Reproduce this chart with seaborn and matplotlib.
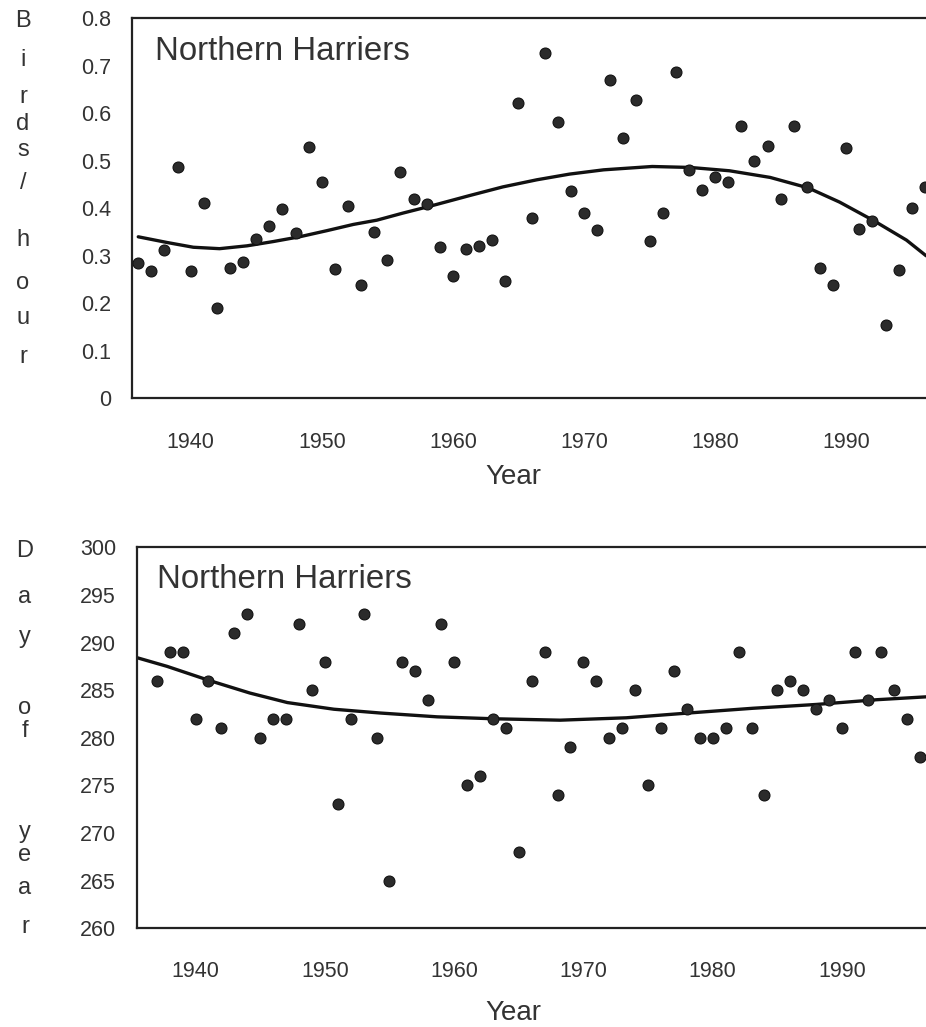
import numpy as np
import pandas as pd
import matplotlib
matplotlib.use("Agg")
import matplotlib.pyplot as plt
import seaborn as sns

# ---------------- data ----------------
rate_years = list(range(1936, 1997))
rate_values = [0.284, 0.268, 0.313, 0.486, 0.268, 0.412, 0.191, 0.274, 0.287, 0.336,
               0.363, 0.399, 0.347, 0.529, 0.455, 0.272, 0.404, 0.239, 0.350, 0.292,
               0.476, 0.420, 0.410, 0.319, 0.258, 0.315, 0.320, 0.333, 0.248, 0.622,
               0.380, 0.728, 0.582, 0.436, 0.390, 0.355, 0.670, 0.549, 0.629, 0.331,
               0.390, 0.686, 0.481, 0.438, 0.465, 0.455, 0.573, 0.500, 0.531, 0.419,
               0.574, 0.445, 0.275, 0.238, 0.527, 0.357, 0.373, 0.154, 0.271, 0.401,
               0.444]
rate_curve_years = [1936.0, 1938.2, 1940.2, 1942.2, 1944.3, 1946.3, 1948.3, 1950.4,
                    1952.4, 1954.2, 1956.2, 1958.2, 1961.3, 1963.8, 1966.4, 1968.9,
                    1971.5, 1975.2, 1978.1, 1981.1, 1984.2, 1987.1, 1989.5, 1992.1,
                    1994.6, 1996.1]
rate_curve_values = [0.340, 0.328, 0.318, 0.315, 0.321, 0.330, 0.340, 0.353,
                     0.366, 0.375, 0.390, 0.404, 0.427, 0.445, 0.460, 0.472,
                     0.481, 0.488, 0.486, 0.479, 0.465, 0.443, 0.413, 0.374,
                     0.333, 0.300]

day_years = list(range(1937, 1997))
day_values = [286, 289, 289, 282, 286, 281, 291, 293, 280, 282,
              282, 292, 285, 288, 273, 282, 293, 280, 265, 288,
              287, 284, 292, 288, 275, 276, 282, 281, 268, 286,
              289, 274, 279, 288, 286, 280, 281, 285, 275, 281,
              287, 283, 280, 280, 281, 289, 281, 274, 285, 286,
              285, 283, 284, 281, 289, 284, 289, 285, 282, 278]
day_curve_years = [1935.5, 1937.8, 1941.1, 1944.2, 1947.1, 1950.7, 1954.3, 1958.7,
                   1963.0, 1968.2, 1973.3, 1978.1, 1983.1, 1988.0, 1992.7, 1996.5]
day_curve_values = [288.4, 287.5, 286.0, 284.7, 283.7, 283.0, 282.6, 282.2,
                    282.0, 281.85, 282.1, 282.6, 283.1, 283.5, 284.0, 284.3]

species = "Northern Harriers"
x_label = "Year"
top_ylabel = "Birds/hour"
bottom_ylabel = "Day of year"
x_ticks = [1940, 1950, 1960, 1970, 1980, 1990]
top_yticks = [0, 0.1, 0.2, 0.3, 0.4, 0.5, 0.6, 0.7, 0.8]
top_yticklabels = ["0", "0.1", "0.2", "0.3", "0.4", "0.5", "0.6", "0.7", "0.8"]
bottom_yticks = [260, 265, 270, 275, 280, 285, 290, 295, 300]

# ---------------- styling ----------------
sns.set_theme(style="white")
plt.rcParams["font.family"] = ["Liberation Sans", "DejaVu Sans"]
INK = "#2b2b2b"
TXT = "#333333"

W, H = 926, 1027
fig = plt.figure(figsize=(W / 100, H / 100), dpi=100)
fig.patch.set_facecolor("white")


def rect(left, top, right, bottom):
    return [left / W, 1 - bottom / H, (right - left) / W, (bottom - top) / H]


ax1 = fig.add_axes(rect(131.7, 18.3, 944.5, 398.3))
ax2 = fig.add_axes(rect(136.7, 547.3, 939.0, 928.3))

rate_df = pd.DataFrame({"year": rate_years, "rate": rate_values})
rate_curve = pd.DataFrame({"year": rate_curve_years, "rate": rate_curve_values})
day_df = pd.DataFrame({"year": day_years, "day": day_values})
day_curve = pd.DataFrame({"year": day_curve_years, "day": day_curve_values})

sns.lineplot(data=rate_curve, x="year", y="rate", ax=ax1, color="#111111",
             linewidth=2.4, sort=False, estimator=None, zorder=2)
sns.scatterplot(data=rate_df, x="year", y="rate", ax=ax1, s=62, color=INK,
                edgecolor="#111111", linewidth=0.8, zorder=3)

sns.lineplot(data=day_curve, x="year", y="day", ax=ax2, color="#111111",
             linewidth=2.4, sort=False, estimator=None, zorder=2)
sns.scatterplot(data=day_df, x="year", y="day", ax=ax2, s=62, color=INK,
                edgecolor="#111111", linewidth=0.8, zorder=3)

ax1.set_xlim(1935.5, 1997.5)
ax1.set_ylim(0, 0.8)
ax2.set_xlim(1935.45, 1997.5)
ax2.set_ylim(260, 300)

ax1.set_yticks(top_yticks)
ax1.set_yticklabels(top_yticklabels)
ax2.set_yticks(bottom_yticks)
ax2.set_yticklabels([str(v) for v in bottom_yticks])

for ax, xpad in ((ax1, 24), (ax2, 23.5)):
    ax.set_xticks(x_ticks)
    ax.set_xticklabels([str(v) for v in x_ticks])
    ax.set_xlabel("")
    ax.set_ylabel("")
    ax.tick_params(axis="y", length=0, pad=15, labelsize=15.5, labelcolor=TXT)
    ax.tick_params(axis="x", length=0, pad=xpad, labelsize=15.5, labelcolor=TXT)
    for side in ("top", "left", "bottom", "right"):
        ax.spines[side].set_visible(True)
        ax.spines[side].set_color("#222222")
        ax.spines[side].set_linewidth(1.6)

# panel titles
fig.text(155 / W, 1 - 51 / H, species, fontsize=23.8, color=TXT, ha="left", va="center")
fig.text(157 / W, 1 - 580 / H, species, fontsize=23.8, color=TXT, ha="left", va="center")

# x axis titles
fig.text(513 / W, 1 - 477 / H, x_label, fontsize=20, color=TXT, ha="center", va="center")
fig.text(513 / W, 1 - 1013 / H, x_label, fontsize=20, color=TXT, ha="center", va="center")

# stacked y-axis titles
top_letter_y = [21, 60, 97, 124, 150, 183, 240, 283, 318, 357]
for ch, yy in zip([c for c in top_ylabel], top_letter_y):
    fig.text(23 / W, 1 - yy / H, ch, fontsize=17, color=TXT, ha="center", va="center")

bottom_chars = [c for c in bottom_ylabel if c != " "]
bottom_letter_y = [551, 597, 637, 708, 731, 832, 855, 888, 927]
for ch, yy in zip(bottom_chars, bottom_letter_y):
    fig.text(25 / W, 1 - yy / H, ch, fontsize=17, color=TXT, ha="center", va="center")

fig.savefig("out.png", dpi=100, facecolor="white")
